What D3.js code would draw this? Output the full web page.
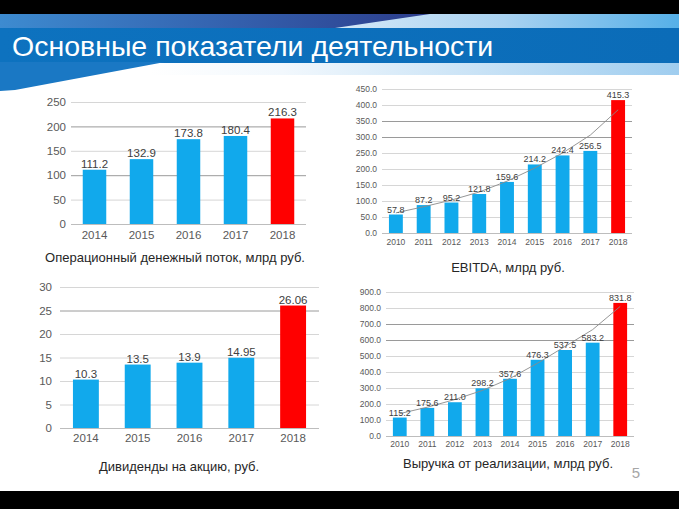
<!DOCTYPE html>
<html><head><meta charset="utf-8">
<script src="https://cdn.jsdelivr.net/npm/d3@7"></script>
<style>
body{margin:0;background:#fff}
svg{display:block}
text{font-family:"Liberation Sans",Arial,sans-serif}
</style>
</head><body>
<svg id="c" width="679" height="509"></svg>
<script>
// ---------- data ----------
const titleText = "Основные показатели деятельности";
const pageNumber = "5";

const shortYears = ["2014", "2015", "2016", "2017", "2018"];
const longYears = ["2010", "2011", "2012", "2013", "2014", "2015", "2016", "2017", "2018"];

const cashFlowValues = [111.2, 132.9, 173.8, 180.4, 216.3];
const cashFlowTicks = [0, 50, 100, 150, 200, 250];
const cashFlowCaption = "Операционный денежный поток, млрд руб.";

const dividendValues = [10.3, 13.5, 13.9, 14.95, 26.06];
const dividendTicks = [0, 5, 10, 15, 20, 25, 30];
const dividendCaption = "Дивиденды на акцию, руб.";

const ebitdaValues = [57.8, 87.2, 95.2, 121.8, 159.6, 214.2, 242.4, 256.5, 415.3];
const ebitdaTrend = [63, 82, 103, 128, 162, 203, 250, 306, 385];
const ebitdaTicks = [0, 50, 100, 150, 200, 250, 300, 350, 400, 450];
const ebitdaCaption = "EBITDA, млрд руб.";

const revenueValues = [115.2, 175.6, 211.0, 298.2, 357.6, 476.3, 537.5, 583.2, 831.8];
const revenueTrend = [140, 180, 228, 285, 360, 455, 560, 665, 810];
const revenueTicks = [0, 100, 200, 300, 400, 500, 600, 700, 800, 900];
const revenueCaption = "Выручка от реализации, млрд руб.";

// ---------- header ----------
const svg = d3.select("#c");
const defs = svg.append("defs");
function lin(id, stops, x1, x2) {
  const g = defs.append("linearGradient").attr("id", id)
    .attr("gradientUnits", "userSpaceOnUse")
    .attr("x1", x1).attr("x2", x2).attr("y1", 0).attr("y2", 0);
  stops.forEach(s => g.append("stop").attr("offset", s[0]).attr("stop-color", s[1]));
}
lin("gTopDark", [[0, "#3d8bd0"], [0.55, "#3460ad"], [1, "#2c3d8c"]], 0, 430);
lin("gTopLight", [[0, "#d6e9f8"], [0.5, "#a9d2f1"], [1, "#56b0e8"]], 330, 679);
lin("gBand", [[0, "#0d72bf"], [1, "#0b6cb8"]], 0, 679);
lin("gLow", [[0, "#ffffff"], [0.25, "#f2f8fd"], [1, "#9fcdef"]], 150, 679);

svg.append("rect").attr("x", 0).attr("y", 0).attr("width", 679).attr("height", 14).attr("fill", "#000");
svg.append("rect").attr("x", 0).attr("y", 14).attr("width", 679).attr("height", 14).attr("fill", "url(#gTopLight)");
svg.append("polygon").attr("points", "0,14 430,14 335,28 0,28").attr("fill", "url(#gTopDark)");
svg.append("rect").attr("x", 0).attr("y", 63).attr("width", 679).attr("height", 12).attr("fill", "url(#gLow)");
svg.append("rect").attr("x", 0).attr("y", 28).attr("width", 679).attr("height", 35).attr("fill", "url(#gBand)");
svg.append("polygon").attr("points", "0,62 165,62 15,90 0,91").attr("fill", "#1a78c4");
svg.append("text").attr("x", 12).attr("y", 56).attr("fill", "#fff")
  .attr("font-size", 28.5).text(titleText);

// bottom black bar
svg.append("rect").attr("x", 0).attr("y", 491).attr("width", 679).attr("height", 18).attr("fill", "#000");
svg.append("text").attr("x", 636).attr("y", 478).attr("fill", "#a6a6a6")
  .attr("font-size", 15).attr("text-anchor", "middle").text(pageNumber);

// ---------- charts ----------
const BLUE = "#11a9ec", RED = "#ff0000";

function drawChart(c) {
  const g = svg.append("g");
  const x = d3.scaleBand().domain(c.cats).range(c.xr).paddingInner(c.pad).paddingOuter(c.pad / 2);
  const y = d3.scaleLinear().domain([0, d3.max(c.ticks)]).range(c.yr);

  const ya = g.append("g").attr("transform", `translate(${c.xr[0]},0)`)
    .call(d3.axisLeft(y).tickValues(c.ticks).tickFormat(c.tickFmt)
      .tickSize(-(c.xr[1] - c.xr[0])).tickPadding(c.tickPad));
  ya.select(".domain").remove();
  ya.selectAll(".tick line")
    .attr("stroke", d => d === 0 ? "#bdbdbd" : (c.dark.includes(d) ? "#9a9a9a" : "#d6d6d6"))
    .attr("stroke-width", 1);
  ya.selectAll(".tick text").attr("fill", "#595959").attr("font-size", c.tickFont)
    .attr("font-family", "Liberation Sans, Arial, sans-serif");

  g.selectAll(".bar").data(c.values).join("rect")
    .attr("x", (d, i) => x(c.cats[i]))
    .attr("y", d => y(d))
    .attr("width", x.bandwidth())
    .attr("height", d => y(0) - y(d))
    .attr("fill", (d, i) => i === c.values.length - 1 ? RED : BLUE);

  const xa = g.append("g").attr("transform", `translate(0,${c.yr[0]})`)
    .call(d3.axisBottom(x).tickSize(0).tickPadding(c.xPad));
  xa.select(".domain").remove();
  xa.selectAll(".tick text").attr("fill", "#595959").attr("font-size", c.xFont)
    .attr("font-family", "Liberation Sans, Arial, sans-serif");

  if (c.trend) {
    const line = d3.line().x((d, i) => x(c.cats[i]) + x.bandwidth() / 2).y(d => y(d));
    g.append("path").attr("d", line(c.trend)).attr("fill", "none")
      .attr("stroke", "#8a8a8a").attr("stroke-width", 0.9);
  }

  g.selectAll(".lbl").data(c.values).join("text")
    .attr("x", (d, i) => x(c.cats[i]) + x.bandwidth() / 2)
    .attr("y", d => y(d) - 2)
    .attr("text-anchor", "middle").attr("fill", "#404040")
    .attr("font-size", c.lblFont).text(c.lblFmt);

  g.append("text").attr("x", c.capX).attr("y", c.capY).attr("text-anchor", "middle")
    .attr("fill", "#262626").attr("font-size", c.capFont).text(c.caption);
}

const f1 = d3.format(".1f");

drawChart({
  cats: shortYears, values: cashFlowValues, ticks: cashFlowTicks, tickFmt: d3.format("d"),
  lblFmt: f1, xr: [71, 306], yr: [224, 102], pad: 0.5, tickPad: 5, xPad: 7,
  tickFont: 11.5, xFont: 11.5, lblFont: 11.5, dark: [100, 200],
  caption: cashFlowCaption, capX: 175, capY: 262, capFont: 13
});
drawChart({
  cats: longYears, values: ebitdaValues, ticks: ebitdaTicks, tickFmt: f1, trend: ebitdaTrend,
  lblFmt: f1, xr: [382, 632], yr: [233, 89], pad: 0.5, tickPad: 5, xPad: 6,
  tickFont: 8.5, xFont: 8.5, lblFont: 9, dark: [300, 350],
  caption: ebitdaCaption, capX: 508, capY: 272, capFont: 13
});
drawChart({
  cats: shortYears, values: dividendValues, ticks: dividendTicks, tickFmt: d3.format("d"),
  lblFmt: d => String(d), xr: [60, 319], yr: [428, 287], pad: 0.5, tickPad: 8, xPad: 6,
  tickFont: 11.5, xFont: 11.5, lblFont: 11.5, dark: [25],
  caption: dividendCaption, capX: 179, capY: 471, capFont: 13
});
drawChart({
  cats: longYears, values: revenueValues, ticks: revenueTicks, tickFmt: f1, trend: revenueTrend,
  lblFmt: f1, xr: [386, 634], yr: [436, 292], pad: 0.5, tickPad: 5, xPad: 5,
  tickFont: 8.5, xFont: 8.5, lblFont: 9, dark: [600, 700],
  caption: revenueCaption, capX: 508, capY: 468, capFont: 13
});
</script>
</body></html>
